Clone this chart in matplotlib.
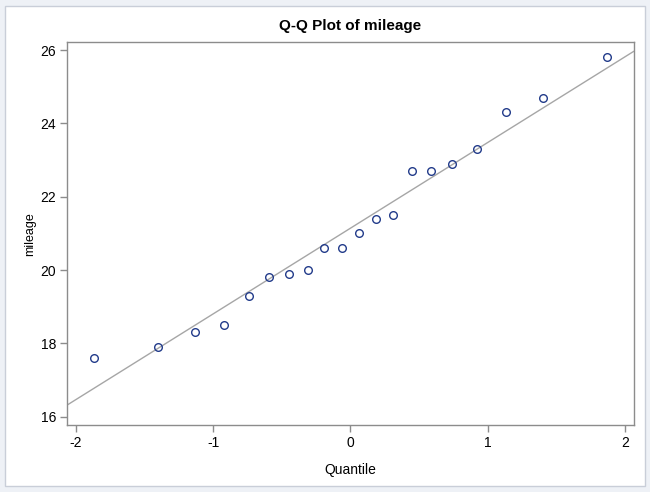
import matplotlib
matplotlib.use("Agg")
import matplotlib.pyplot as plt
import matplotlib.patches as patches

# Data
quantiles = [-1.87, -1.40, -1.13, -0.92, -0.74, -0.59, -0.45, -0.31, -0.19, -0.06,
             0.06, 0.19, 0.31, 0.45, 0.59, 0.74, 0.92, 1.13, 1.40, 1.87]
mileage = [17.6, 17.9, 18.3, 18.5, 19.3, 19.8, 19.9, 20.0, 20.6, 20.6,
           21.0, 21.4, 21.5, 22.7, 22.7, 22.9, 23.3, 24.3, 24.7, 25.8]
x_ticks = [-2, -1, 0, 1, 2]
y_ticks = [16, 18, 20, 22, 24, 26]

# Reference line: mean + std * quantile
n = len(mileage)
mu = sum(mileage) / n
sigma = (sum((v - mu) ** 2 for v in mileage) / (n - 1)) ** 0.5

C_BG = "#eef1f6"
C_BORDER = "#c9ced8"
C_FRAME = "#8c8c8c"
C_MARK = "#223b8a"
C_LINE = "#a6a6a6"

plt.rcParams['font.family'] = ['Liberation Sans', 'DejaVu Sans']
plt.rcParams['axes.unicode_minus'] = False

fig = plt.figure(figsize=(6.5, 4.92), dpi=100, facecolor=C_BG)

# white panel with thin border, behind the axes
panel = patches.Rectangle((5 / 650, 1 - 486 / 492), 640 / 650, 480 / 492,
                          transform=fig.transFigure, facecolor="white",
                          edgecolor=C_BORDER, linewidth=1, zorder=-1)
fig.patches.append(panel)

ax = fig.add_axes([67.3 / 650, 1 - 425 / 492, (633.5 - 67.3) / 650, (425 - 42.3) / 492])
ax.set_facecolor("white")

ax.axline((0, mu), slope=sigma, color=C_LINE, lw=1, zorder=2)
ax.plot(quantiles, mileage, linestyle="none", marker="o", markersize=5.5,
        markerfacecolor="none", markeredgecolor=C_MARK, markeredgewidth=1, zorder=3)

ax.set_xlim(-2.061, 2.061)
ax.set_ylim(15.774, 26.21)
ax.set_xticks(x_ticks)
ax.set_yticks(y_ticks)

for s in ax.spines.values():
    s.set_color(C_FRAME)
    s.set_linewidth(1)
ax.tick_params(direction="out", length=5, width=1, color=C_FRAME,
               labelsize=10, labelcolor="black", pad=3)

ax.set_xlabel("Quantile", fontsize=10, labelpad=9)
ax.set_ylabel("mileage", fontsize=9, labelpad=3)
ax.set_title("Q-Q Plot of mileage", fontsize=11, weight="bold", pad=9)

fig.savefig("out.png", dpi=100, facecolor=C_BG)
